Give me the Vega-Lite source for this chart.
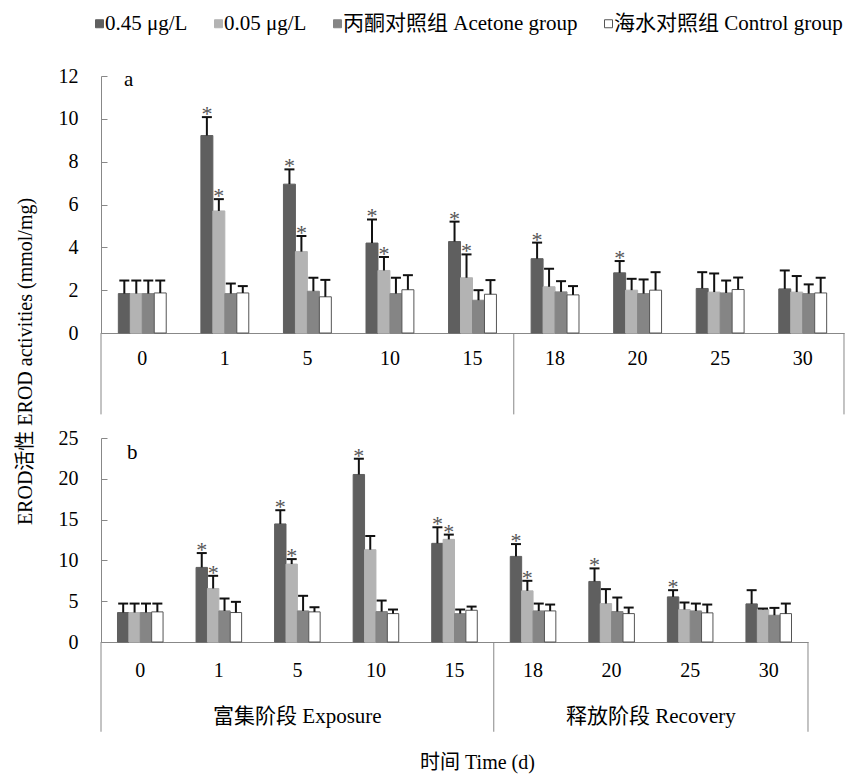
{
  "$schema": "https://vega.github.io/schema/vega-lite/v6.json",
  "background": "white",
  "padding": {"left": 15, "top": 13, "right": 2, "bottom": 2},
  "datasets": {
    "a": [
      {"day": "0", "group": "0.45 μg/L", "value": 1.84, "upper": 2.45, "sig": 0},
      {"day": "0", "group": "0.05 μg/L", "value": 1.84, "upper": 2.45, "sig": 0},
      {"day": "0", "group": "丙酮对照组 Acetone group", "value": 1.84, "upper": 2.45, "sig": 0},
      {"day": "0", "group": "海水对照组 Control group", "value": 1.87, "upper": 2.45, "sig": 0},
      {"day": "1", "group": "0.45 μg/L", "value": 9.22, "upper": 10.08, "sig": 1},
      {"day": "1", "group": "0.05 μg/L", "value": 5.70, "upper": 6.25, "sig": 1},
      {"day": "1", "group": "丙酮对照组 Acetone group", "value": 1.84, "upper": 2.31, "sig": 0},
      {"day": "1", "group": "海水对照组 Control group", "value": 1.87, "upper": 2.19, "sig": 0},
      {"day": "5", "group": "0.45 μg/L", "value": 6.95, "upper": 7.64, "sig": 1},
      {"day": "5", "group": "0.05 μg/L", "value": 3.80, "upper": 4.53, "sig": 1},
      {"day": "5", "group": "丙酮对照组 Acetone group", "value": 1.95, "upper": 2.58, "sig": 0},
      {"day": "5", "group": "海水对照组 Control group", "value": 1.69, "upper": 2.48, "sig": 0},
      {"day": "10", "group": "0.45 μg/L", "value": 4.20, "upper": 5.30, "sig": 1},
      {"day": "10", "group": "0.05 μg/L", "value": 2.92, "upper": 3.55, "sig": 1},
      {"day": "10", "group": "丙酮对照组 Acetone group", "value": 1.84, "upper": 2.58, "sig": 0},
      {"day": "10", "group": "海水对照组 Control group", "value": 2.02, "upper": 2.70, "sig": 0},
      {"day": "15", "group": "0.45 μg/L", "value": 4.27, "upper": 5.20, "sig": 1},
      {"day": "15", "group": "0.05 μg/L", "value": 2.58, "upper": 3.67, "sig": 1},
      {"day": "15", "group": "丙酮对照组 Acetone group", "value": 1.53, "upper": 2.00, "sig": 0},
      {"day": "15", "group": "海水对照组 Control group", "value": 1.81, "upper": 2.47, "sig": 0},
      {"day": "18", "group": "0.45 μg/L", "value": 3.47, "upper": 4.22, "sig": 1},
      {"day": "18", "group": "0.05 μg/L", "value": 2.16, "upper": 3.00, "sig": 0},
      {"day": "18", "group": "丙酮对照组 Acetone group", "value": 1.92, "upper": 2.42, "sig": 0},
      {"day": "18", "group": "海水对照组 Control group", "value": 1.78, "upper": 2.19, "sig": 0},
      {"day": "20", "group": "0.45 μg/L", "value": 2.81, "upper": 3.36, "sig": 1},
      {"day": "20", "group": "0.05 μg/L", "value": 2.00, "upper": 2.53, "sig": 0},
      {"day": "20", "group": "丙酮对照组 Acetone group", "value": 1.84, "upper": 2.50, "sig": 0},
      {"day": "20", "group": "海水对照组 Control group", "value": 2.00, "upper": 2.84, "sig": 0},
      {"day": "25", "group": "0.45 μg/L", "value": 2.08, "upper": 2.84, "sig": 0},
      {"day": "25", "group": "0.05 μg/L", "value": 1.91, "upper": 2.78, "sig": 0},
      {"day": "25", "group": "丙酮对照组 Acetone group", "value": 1.87, "upper": 2.45, "sig": 0},
      {"day": "25", "group": "海水对照组 Control group", "value": 2.03, "upper": 2.59, "sig": 0},
      {"day": "30", "group": "0.45 μg/L", "value": 2.06, "upper": 2.92, "sig": 0},
      {"day": "30", "group": "0.05 μg/L", "value": 1.91, "upper": 2.66, "sig": 0},
      {"day": "30", "group": "丙酮对照组 Acetone group", "value": 1.84, "upper": 2.27, "sig": 0},
      {"day": "30", "group": "海水对照组 Control group", "value": 1.87, "upper": 2.58, "sig": 0}
    ],
    "b": [
      {"day": "0", "group": "0.45 μg/L", "value": 3.61, "upper": 4.71, "sig": 0},
      {"day": "0", "group": "0.05 μg/L", "value": 3.61, "upper": 4.71, "sig": 0},
      {"day": "0", "group": "丙酮对照组 Acetone group", "value": 3.61, "upper": 4.71, "sig": 0},
      {"day": "0", "group": "海水对照组 Control group", "value": 3.69, "upper": 4.71, "sig": 0},
      {"day": "1", "group": "0.45 μg/L", "value": 9.14, "upper": 10.9, "sig": 1},
      {"day": "1", "group": "0.05 μg/L", "value": 6.56, "upper": 8.11, "sig": 1},
      {"day": "1", "group": "丙酮对照组 Acetone group", "value": 3.81, "upper": 5.33, "sig": 0},
      {"day": "1", "group": "海水对照组 Control group", "value": 3.61, "upper": 4.92, "sig": 0},
      {"day": "5", "group": "0.45 μg/L", "value": 14.47, "upper": 16.15, "sig": 1},
      {"day": "5", "group": "0.05 μg/L", "value": 9.55, "upper": 10.16, "sig": 1},
      {"day": "5", "group": "丙酮对照组 Acetone group", "value": 3.81, "upper": 5.66, "sig": 0},
      {"day": "5", "group": "海水对照组 Control group", "value": 3.69, "upper": 4.26, "sig": 0},
      {"day": "10", "group": "0.45 μg/L", "value": 20.53, "upper": 22.46, "sig": 1},
      {"day": "10", "group": "0.05 μg/L", "value": 11.31, "upper": 12.99, "sig": 0},
      {"day": "10", "group": "丙酮对照组 Acetone group", "value": 3.73, "upper": 5.08, "sig": 0},
      {"day": "10", "group": "海水对照组 Control group", "value": 3.48, "upper": 3.98, "sig": 0},
      {"day": "15", "group": "0.45 μg/L", "value": 12.09, "upper": 14.06, "sig": 1},
      {"day": "15", "group": "0.05 μg/L", "value": 12.58, "upper": 13.16, "sig": 1},
      {"day": "15", "group": "丙酮对照组 Acetone group", "value": 3.48, "upper": 3.98, "sig": 0},
      {"day": "15", "group": "海水对照组 Control group", "value": 3.89, "upper": 4.34, "sig": 0},
      {"day": "18", "group": "0.45 μg/L", "value": 10.49, "upper": 12.0, "sig": 1},
      {"day": "18", "group": "0.05 μg/L", "value": 6.27, "upper": 7.5, "sig": 1},
      {"day": "18", "group": "丙酮对照组 Acetone group", "value": 3.81, "upper": 4.71, "sig": 0},
      {"day": "18", "group": "海水对照组 Control group", "value": 3.81, "upper": 4.59, "sig": 0},
      {"day": "20", "group": "0.45 μg/L", "value": 7.42, "upper": 9.02, "sig": 1},
      {"day": "20", "group": "0.05 μg/L", "value": 4.71, "upper": 6.48, "sig": 0},
      {"day": "20", "group": "丙酮对照组 Acetone group", "value": 3.73, "upper": 5.45, "sig": 0},
      {"day": "20", "group": "海水对照组 Control group", "value": 3.48, "upper": 4.22, "sig": 0},
      {"day": "25", "group": "0.45 μg/L", "value": 5.53, "upper": 6.35, "sig": 1},
      {"day": "25", "group": "0.05 μg/L", "value": 3.98, "upper": 4.84, "sig": 0},
      {"day": "25", "group": "丙酮对照组 Acetone group", "value": 3.81, "upper": 4.71, "sig": 0},
      {"day": "25", "group": "海水对照组 Control group", "value": 3.57, "upper": 4.59, "sig": 0},
      {"day": "30", "group": "0.45 μg/L", "value": 4.67, "upper": 6.35, "sig": 0},
      {"day": "30", "group": "0.05 μg/L", "value": 3.98, "upper": 4.10, "sig": 0},
      {"day": "30", "group": "丙酮对照组 Acetone group", "value": 3.28, "upper": 4.18, "sig": 0},
      {"day": "30", "group": "海水对照组 Control group", "value": 3.48, "upper": 4.71, "sig": 0}
    ],
    "one": [{"k": 1}]
  },
  "vconcat": [
    {
      "width": 743,
      "height": 257,
      "data": {"name": "a"},
      "title": {"text": "a", "anchor": "start", "frame": "group", "dx": 23, "offset": -24, "fontSize": 21, "fontWeight": "normal", "font": "Liberation Serif", "color": "black"},
      "encoding": {
        "x": {"field": "day", "type": "ordinal",
          "scale": {"domain": ["0","1","5","10","15","18","20","25","30"], "paddingInner": 0.42, "paddingOuter": 0.21},
          "axis": {"title": null, "labelAngle": 0, "ticks": false, "labelPadding": 15}}
      },
      "layer": [
        {
          "mark": {"type": "bar", "strokeWidth": 1},
          "encoding": {
            "xOffset": {"field": "group", "type": "nominal", "scale": {"domain": ["0.45 μg/L", "0.05 μg/L", "丙酮对照组 Acetone group", "海水对照组 Control group"], "paddingInner": 0, "paddingOuter": 0}},
            "y": {"field": "value", "type": "quantitative", "scale": {"domain": [0, 12], "nice": false},
              "axis": {"values": [0,2,4,6,8,10,12], "title": "EROD活性 EROD activities (mmol/mg)", "titleX": -76, "titleY": 285, "titleAngle": -90, "titleAlign": "center", "titleBaseline": "middle", "tickSize": -6, "labelPadding": 29}},
            "color": {"field": "group", "type": "nominal", "scale": {"domain": ["0.45 μg/L", "0.05 μg/L", "丙酮对照组 Acetone group", "海水对照组 Control group"], "range": ["#5f5f5f", "#b3b3b3", "#858585", "#ffffff"]}, "legend": {"title": null}},
            "stroke": {"field": "group", "type": "nominal", "scale": {"domain": ["0.45 μg/L", "0.05 μg/L", "丙酮对照组 Acetone group", "海水对照组 Control group"], "range": ["#5f5f5f", "#b3b3b3", "#858585", "#555555"]}, "legend": {"title": null}}
          }
        },
        {
          "mark": {"type": "rule", "strokeWidth": 2, "color": "#111"},
          "encoding": {
            "xOffset": {"field": "group", "type": "nominal"},
            "y": {"field": "value", "type": "quantitative"},
            "y2": {"field": "upper"}
          }
        },
        {
          "mark": {"type": "tick", "thickness": 2, "size": 10, "color": "#111", "opacity": 1},
          "encoding": {
            "xOffset": {"field": "group", "type": "nominal"},
            "y": {"field": "upper", "type": "quantitative"}
          }
        },
        {
          "transform": [{"filter": "datum.sig == 1"}],
          "mark": {"type": "text", "text": "*", "dy": -3, "fontSize": 22, "color": "#555", "font": "Liberation Serif"},
          "encoding": {
            "xOffset": {"field": "group", "type": "nominal"},
            "y": {"field": "upper", "type": "quantitative"}
          }
        },
        {
          "data": {"name": "one"},
          "mark": {"type": "rule", "color": "#888", "strokeWidth": 1},
          "encoding": {"x": {"datum": "0", "type": "ordinal", "bandPosition": -0.362}, "y": {"datum": 0, "type": "quantitative"}, "y2": {"datum": -3.8}}
        },
        {
          "data": {"name": "one"},
          "mark": {"type": "rule", "color": "#888", "strokeWidth": 1},
          "encoding": {"x": {"datum": "18", "type": "ordinal", "bandPosition": -0.362}, "y": {"datum": 0, "type": "quantitative"}, "y2": {"datum": -3.8}}
        },
        {
          "data": {"name": "one"},
          "mark": {"type": "rule", "color": "#888", "strokeWidth": 1},
          "encoding": {"x": {"datum": "30", "type": "ordinal", "bandPosition": 1.362}, "y": {"datum": 0, "type": "quantitative"}, "y2": {"datum": -3.8}}
        }
      ]
    },
    {
      "width": 707,
      "height": 204,
      "data": {"name": "b"},
      "title": {"text": "b", "anchor": "start", "frame": "group", "dx": 26, "offset": -35, "fontSize": 21, "fontWeight": "normal", "font": "Liberation Serif", "color": "black"},
      "encoding": {
        "x": {"field": "day", "type": "ordinal",
          "scale": {"domain": ["0","1","5","10","15","18","20","25","30"], "paddingInner": 0.42, "paddingOuter": 0.21},
          "axis": {"title": "时间 Time (d)", "titleX": 376, "titleY": 120, "titleBaseline": "middle", "titleFontSize": 20, "labelAngle": 0, "ticks": false, "labelPadding": 18}}
      },
      "layer": [
        {
          "mark": {"type": "bar", "strokeWidth": 1},
          "encoding": {
            "xOffset": {"field": "group", "type": "nominal", "scale": {"domain": ["0.45 μg/L", "0.05 μg/L", "丙酮对照组 Acetone group", "海水对照组 Control group"], "paddingInner": 0, "paddingOuter": 0}},
            "y": {"field": "value", "type": "quantitative", "scale": {"domain": [0, 25], "nice": false},
              "axis": {"values": [0,5,10,15,20,25], "title": null, "tickSize": -6, "labelPadding": 29}},
            "color": {"field": "group", "type": "nominal", "legend": {"title": null}},
            "stroke": {"field": "group", "type": "nominal", "legend": {"title": null}}
          }
        },
        {
          "mark": {"type": "rule", "strokeWidth": 2, "color": "#111"},
          "encoding": {
            "xOffset": {"field": "group", "type": "nominal"},
            "y": {"field": "value", "type": "quantitative"},
            "y2": {"field": "upper"}
          }
        },
        {
          "mark": {"type": "tick", "thickness": 2, "size": 10, "color": "#111", "opacity": 1},
          "encoding": {
            "xOffset": {"field": "group", "type": "nominal"},
            "y": {"field": "upper", "type": "quantitative"}
          }
        },
        {
          "transform": [{"filter": "datum.sig == 1"}],
          "mark": {"type": "text", "text": "*", "dy": -3, "fontSize": 22, "color": "#555", "font": "Liberation Serif"},
          "encoding": {
            "xOffset": {"field": "group", "type": "nominal"},
            "y": {"field": "upper", "type": "quantitative"}
          }
        },
        {
          "data": {"name": "one"},
          "mark": {"type": "rule", "color": "#888", "strokeWidth": 1},
          "encoding": {"x": {"datum": "0", "type": "ordinal", "bandPosition": -0.362}, "y": {"datum": 0, "type": "quantitative"}, "y2": {"datum": -11}}
        },
        {
          "data": {"name": "one"},
          "mark": {"type": "rule", "color": "#888", "strokeWidth": 1},
          "encoding": {"x": {"datum": "18", "type": "ordinal", "bandPosition": -0.362}, "y": {"datum": 0, "type": "quantitative"}, "y2": {"datum": -11}}
        },
        {
          "data": {"name": "one"},
          "mark": {"type": "rule", "color": "#888", "strokeWidth": 1},
          "encoding": {"x": {"datum": "30", "type": "ordinal", "bandPosition": 1.362}, "y": {"datum": 0, "type": "quantitative"}, "y2": {"datum": -11}}
        },
        {
          "data": {"name": "one"},
          "mark": {"type": "text", "text": "富集阶段 Exposure", "fontSize": 21, "dy": 75, "baseline": "middle", "color": "black"},
          "encoding": {"x": {"datum": "5", "type": "ordinal", "bandPosition": 0.5}, "y": {"datum": 0, "type": "quantitative"}}
        },
        {
          "data": {"name": "one"},
          "mark": {"type": "text", "text": "释放阶段 Recovery", "fontSize": 21, "dy": 75, "baseline": "middle", "color": "black"},
          "encoding": {"x": {"datum": "20", "type": "ordinal", "bandPosition": 1.362}, "y": {"datum": 0, "type": "quantitative"}}
        }
      ]
    }
  ],
  "spacing": 105,
  "bounds": "flush",
  "resolve": {"scale": {"x": "independent", "y": "independent", "xOffset": "independent", "color": "shared", "stroke": "shared"}},
  "config": {
    "font": "Liberation Serif, Noto Sans CJK SC",
    "view": {"stroke": null},
    "text": {"font": "Liberation Serif, Noto Sans CJK SC"},
    "axis": {
      "labelFont": "Liberation Serif, Noto Sans CJK SC", "labelFontSize": 20, "labelColor": "black",
      "titleFont": "Liberation Serif, Noto Sans CJK SC", "titleFontSize": 20, "titleFontWeight": "normal", "titleColor": "black",
      "domainColor": "#888", "tickColor": "#888", "grid": false
    },
    "legend": {
      "orient": "none", "legendX": -12, "legendY": -63, "direction": "horizontal",
      "symbolType": "square", "symbolSize": 64, "symbolStrokeWidth": 1,
      "labelFont": "Liberation Serif, Noto Sans CJK SC", "labelFontSize": 21, "labelColor": "black",
      "labelOffset": -5, "columnPadding": 20, "labelLimit": 400
    }
  }
}
